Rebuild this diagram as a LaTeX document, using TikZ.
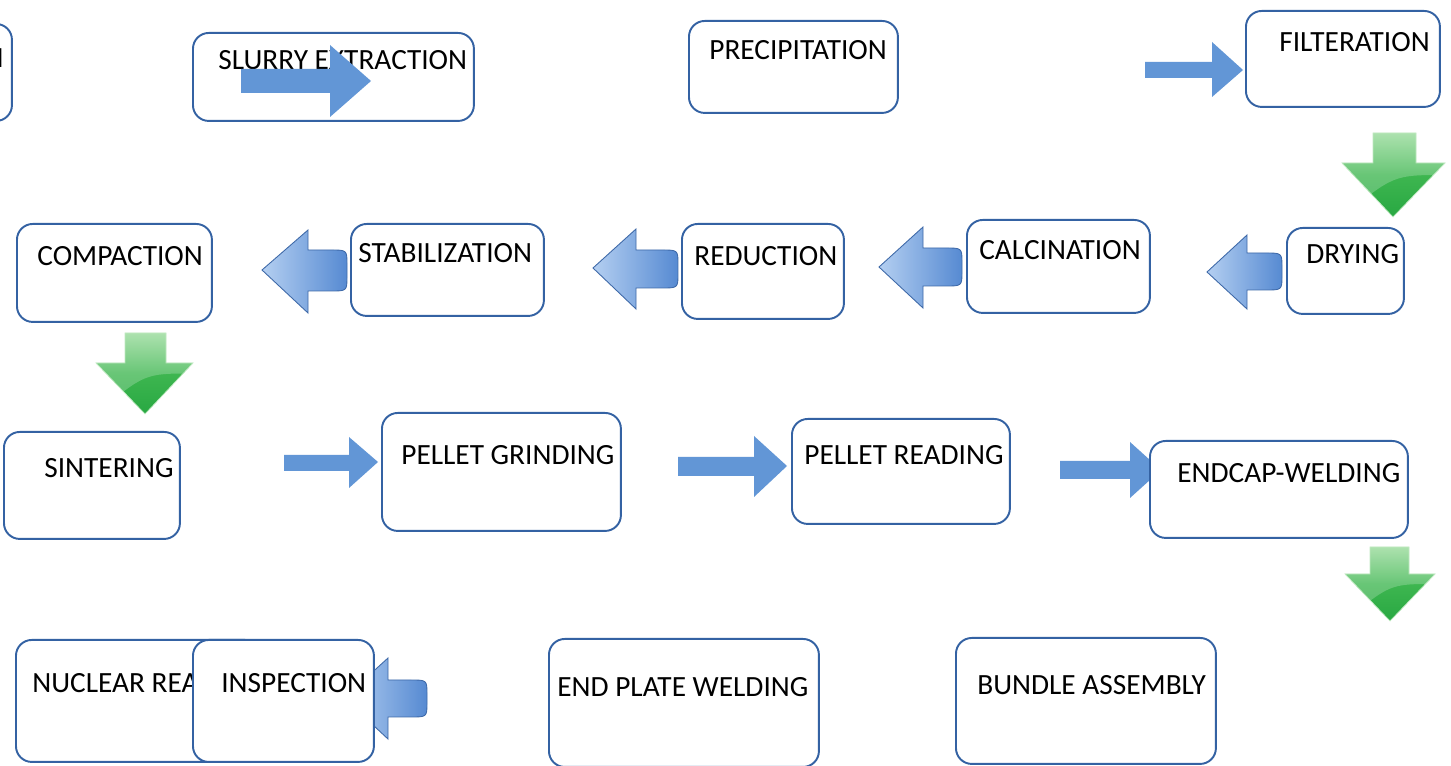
\documentclass[tikz,border=0pt]{standalone}
\usepackage{fontspec}
\setmainfont{Carlito}
\definecolor{boxline}{RGB}{52,98,163}
\definecolor{flatblue}{RGB}{98,150,214}
\definecolor{backlite}{RGB}{180,207,241}
\definecolor{backdark}{RGB}{86,138,210}
\definecolor{backedge}{RGB}{62,105,168}
\definecolor{grnlite}{RGB}{150,218,152}
\definecolor{grnmid}{RGB}{62,182,80}
\definecolor{grndark}{RGB}{40,168,66}
\begin{document}
\begin{tikzpicture}[
    x=0.02cm, y=-0.02cm,
    every node/.append style={font=\fontsize{16.7}{19}\selectfont},
    stage/.style={draw=boxline, line width=1.1pt, rounded corners=9pt, fill=white, anchor=north west, inner sep=0pt},
    stagetext/.style={anchor=base west, inner sep=0pt},
    flatarrow/.style={fill=flatblue},
    backarrow/.style={left color=backlite, right color=backdark, draw=backedge, line width=0.5pt},
    downarrow/.style={top color=grnlite, bottom color=grndark, middle color=grnmid, draw=grnlite!60!white, line width=0.4pt,
        path picture={\fill[white, opacity=0.22] (path picture bounding box.north west) -- (path picture bounding box.north east)
            -- (path picture bounding box.east) .. controls (path picture bounding box.center) .. (path picture bounding box.south west) -- cycle;}},
]
\useasboundingbox (0,0) rectangle (1451,766);
\clip (0,0) rectangle (1451,766);
\fill[white] (0,0) rectangle (1451,766);

% row 1
\node[stage, minimum width=1.42cm, minimum height=1.94cm] (edgebox) at (-60,23) {};
\node[anchor=base east, inner sep=0pt] (edgebox-t) at (4,68) {N};
\node[stage, minimum width=5.62cm, minimum height=1.76cm] (slurry) at (192,32) {};
\node[stagetext] (slurry-t) at (218,70) {SLURRY EXTRACTION};
\path[flatarrow] (241,69) -- (330,69) -- (330,45) -- (371,81) -- (330,117) -- (330,93) -- (241,93) -- cycle;
\node[stage, minimum width=4.18cm, minimum height=1.84cm] (precip) at (688,20) {};
\node[stagetext] (precip-t) at (709,60) {PRECIPITATION};
\path[flatarrow] (1145,62) -- (1212,62) -- (1212,42) -- (1243,70) -- (1212,97) -- (1212,78) -- (1145,78) -- cycle;
\node[stage, minimum width=3.88cm, minimum height=1.92cm] (filter) at (1245,10) {};
\node[stagetext] (filter-t) at (1279,52) {FILTERATION};
\path[downarrow] (1373,133) -- (1416,133) -- (1416,163) -- (1445,163) -- (1393,217) -- (1342,163) -- (1373,163) -- cycle;

% row 2, right to left
\node[stage, minimum width=2.34cm, minimum height=1.72cm] (drying) at (1286,227) {};
\node[stagetext] (drying-t) at (1306,264) {DRYING};
\path[backarrow] (1207,272) -- (1247,235) -- (1247,253) -- (1266,253) .. controls (1282,253) .. (1282,268)
    -- (1282,275) .. controls (1282,290) .. (1266,290) -- (1247,290) -- (1247,309) -- cycle;
\node[stage, minimum width=3.66cm, minimum height=1.86cm] (calcin) at (966,219) {};
\node[stagetext] (calcin-t) at (979,260) {CALCINATION};
\path[backarrow] (879,267) -- (923,227) -- (923,248) -- (946,248) .. controls (962,248) .. (962,263)
    -- (962,271) .. controls (962,286) .. (946,286) -- (923,286) -- (923,308) -- cycle;
\node[stage, minimum width=3.24cm, minimum height=1.90cm] (reduct) at (681,223) {};
\node[stagetext] (reduct-t) at (694,266) {REDUCTION};
\path[backarrow] (593,268) -- (636,229) -- (636,250) -- (662,250) .. controls (678,250) .. (678,265)
    -- (678,273) .. controls (678,288) .. (662,288) -- (636,288) -- (636,309) -- cycle;
\node[stage, minimum width=3.86cm, minimum height=1.84cm] (stabil) at (350,223) {};
\node[stagetext] (stabil-t) at (358,263) {STABILIZATION};
\path[backarrow] (262,270) -- (308,230) -- (308,250) -- (331,250) .. controls (347,250) .. (347,265)
    -- (347,276) .. controls (347,291) .. (331,291) -- (308,291) -- (308,313) -- cycle;
\node[stage, minimum width=3.90cm, minimum height=1.96cm] (compact) at (16,223) {};
\node[stagetext] (compact-t) at (37,266) {COMPACTION};
\path[downarrow] (125,333) -- (166,333) -- (166,363) -- (193,363) -- (145,414) -- (96,363) -- (125,363) -- cycle;

% row 3
\node[stage, minimum width=3.52cm, minimum height=2.14cm] (sinter) at (3,431) {};
\node[stagetext] (sinter-t) at (44,478) {SINTERING};
\path[flatarrow] (284,455) -- (349,455) -- (349,437) -- (378,462) -- (349,488) -- (349,471) -- (284,471) -- cycle;
\node[stage, minimum width=4.78cm, minimum height=2.36cm] (grind) at (381,412) {};
\node[stagetext] (grind-t) at (401,465) {PELLET GRINDING};
\path[flatarrow] (678,457) -- (754,457) -- (754,436) -- (787,466) -- (754,497) -- (754,476) -- (678,476) -- cycle;
\node[stage, minimum width=4.36cm, minimum height=2.10cm] (pread) at (791,418) {};
\node[stagetext] (pread-t) at (804,465) {PELLET READING};
\path[flatarrow] (1060,461) -- (1130,461) -- (1130,442) -- (1161,470) -- (1130,498) -- (1130,479) -- (1060,479) -- cycle;
\node[stage, minimum width=5.16cm, minimum height=1.94cm] (endcap) at (1149,440) {};
\node[stagetext] (endcap-t) at (1177,483) {ENDCAP-WELDING};
\path[downarrow] (1370,547) -- (1409,547) -- (1409,574) -- (1435,574) -- (1390,621) -- (1345,574) -- (1370,574) -- cycle;

% row 4
\node[stage, minimum width=4.90cm, minimum height=2.44cm] (nuclear) at (15,639) {};
\node[stagetext] (nuclear-t) at (32,693) {NUCLEAR REA};
\path[backarrow] (344,698) -- (388,658) -- (388,680) -- (411,680) .. controls (427,680) .. (427,695)
    -- (427,702) .. controls (427,717) .. (411,717) -- (388,717) -- (388,739) -- cycle;
\node[stage, minimum width=3.62cm, minimum height=2.44cm] (inspect) at (192,639) {};
\node[stagetext] (inspect-t) at (221,693) {INSPECTION};
\node[stage, minimum width=5.40cm, minimum height=2.56cm] (endplate) at (548,638) {};
\node[stagetext] (endplate-t) at (557,697) {END PLATE WELDING};
\node[stage, minimum width=5.20cm, minimum height=2.52cm] (bundle) at (955,637) {};
\node[stagetext] (bundle-t) at (977,695) {BUNDLE ASSEMBLY};

\end{tikzpicture}
\end{document}
